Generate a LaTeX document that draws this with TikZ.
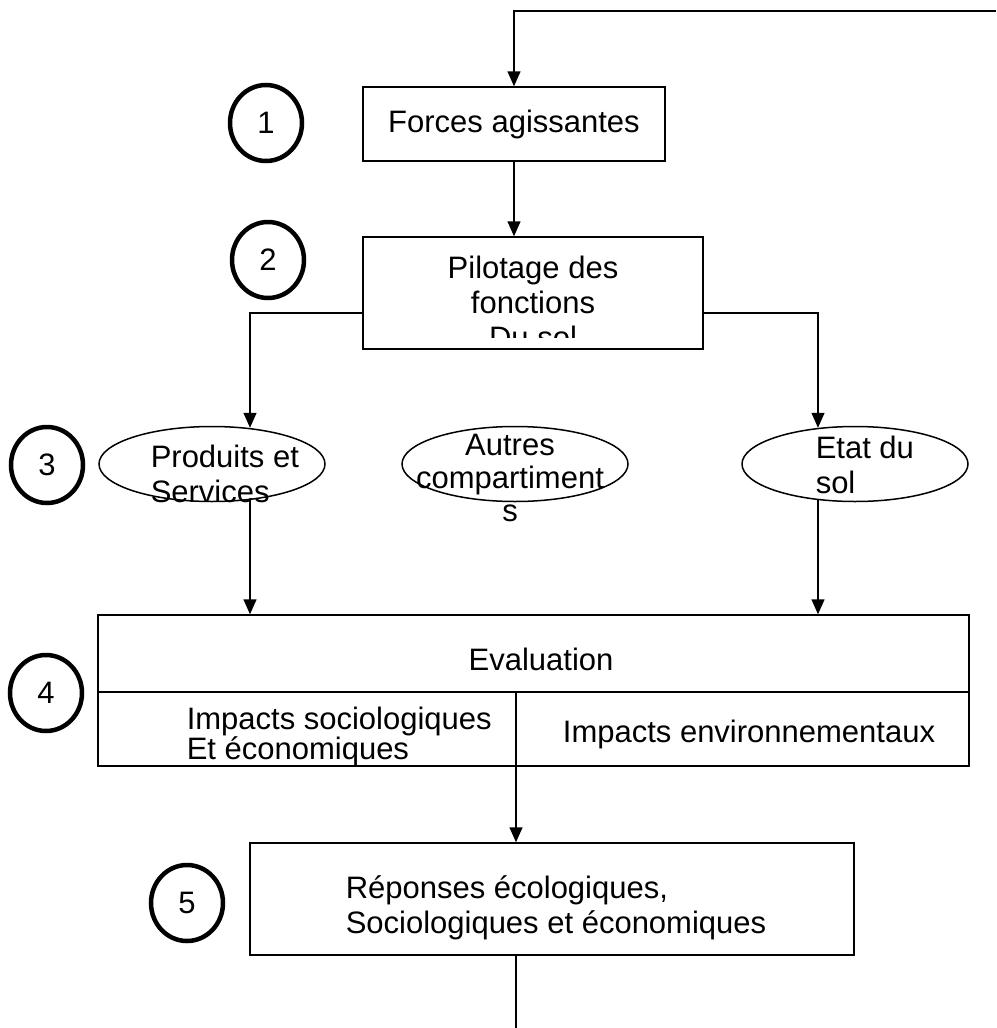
\documentclass[tikz,border=0pt]{standalone}
\usepackage{fontspec}
\setmainfont{Liberation Sans}
\usetikzlibrary{arrows.meta,positioning,calc,shapes.geometric}

\begin{document}
\begin{tikzpicture}[x=1pt,y=-1pt,>={Triangle[length=15pt,width=13pt]},
  font=\fontsize{31}{35}\selectfont,line width=1.5pt,
  box/.style={draw,rectangle,inner sep=0pt},
  oval/.style={draw,ellipse,inner sep=0pt,minimum width=226pt,minimum height=75pt},
  num/.style={draw,ellipse,line width=4.5pt,inner sep=0pt,minimum width=72pt,minimum height=76pt},
  txt/.style={inner sep=0pt,align=left}]
  \useasboundingbox (0,0) rectangle (996,1028);

  % step numbers
  \node[num] (n1) at (266,123) {1};
  \node[num] (n2) at (268,260) {2};
  \node[num] (n3) at (47,465) {3};
  \node[num] (n4) at (46,693) {4};
  \node[num] (n5) at (187,903) {5};

  % 1 and 2
  \node[box,minimum width=302pt,minimum height=74pt] (forces) at (514,124) {Forces agissantes};
  \node[box,minimum width=340pt,minimum height=112pt] (pilot) at (533,293) {};
  \begin{scope}
    \clip ($(pilot.north west)+(2,2)$) rectangle ($(pilot.south east)+(-2,-12)$);
    \node[anchor=north,inner sep=0pt,align=center] (pilotT) at (533,255) {Pilotage des\\fonctions\\Du sol};
  \end{scope}

  % 3
  \node[oval] (prod) at (212,464) {};
  \node[oval] (autres) at (515,464) {};
  \node[oval] (etat) at (855,464) {};
  \node[txt,anchor=north west] (prodT) at (150,444) {Produits et\\Services};
  \node[txt,anchor=north,align=center,font=\fontsize{31}{33}\selectfont] (autresT) at (510,433) {Autres\\compartiment\\s};
  \node[txt,anchor=north west] (etatT) at (815,435) {Etat du\\sol};

  % 4
  \node[box,minimum width=871pt,minimum height=151pt] (eval) at (533.5,690.5) {};
  \coordinate (mid) at (516,692);
  \draw (eval.west |- mid) -- (eval.east |- mid);
  \draw (mid) -- (mid |- eval.south);
  \node[anchor=base] (evalT) at (541,670) {Evaluation};
  \node[txt,anchor=north west,font=\fontsize{31}{29}\selectfont] (socT) at (186,706) {Impacts sociologiques\\Et économiques};
  \node[anchor=base] (envT) at (749,742) {Impacts environnementaux};

  % 5
  \node[box,minimum width=604pt,minimum height=112pt] (resp) at (552,899) {};
  \node[txt,anchor=north west] (respT) at (345,875) {Réponses écologiques,\\Sociologiques et économiques};

  % connectors
  \coordinate (fb) at (996,11);
  \draw[->] (fb) -| (forces.north);
  \draw[->] (forces.south) -- (forces.south |- pilot.north);
  \draw[->] ($(pilot.west)+(0,20)$) -| ($(prod.north)+(38,2)$);
  \draw[->] ($(pilot.east)+(0,20)$) -| ($(etat.north)+(-37,2)$);
  \coordinate (pL) at ($(prod.south)+(38,-2)$);
  \coordinate (eR) at ($(etat.south)+(-37,-2)$);
  \draw[->] (pL) -- (pL |- eval.north);
  \draw[->] (eR) -- (eR |- eval.north);
  \draw[->] (mid |- eval.south) -- (mid |- resp.north);
  \coordinate (fin) at (516,1028);
  \draw (fin |- resp.south) -- (fin);
\end{tikzpicture}
\end{document}
